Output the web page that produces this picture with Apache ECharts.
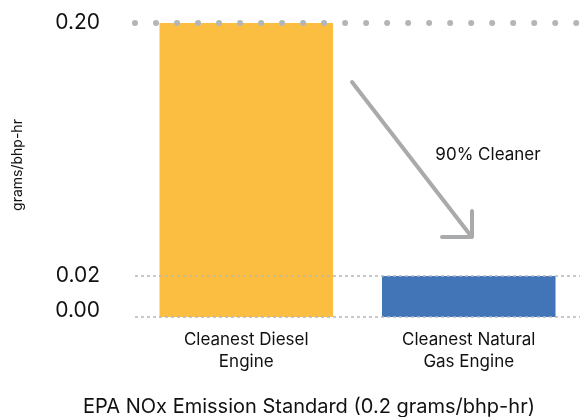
<!DOCTYPE html>
<html><head><meta charset="utf-8">
<script src="https://cdn.jsdelivr.net/npm/echarts@6.0.0/dist/echarts.min.js"></script>
<style>html,body{margin:0;padding:0;background:#fff}#c{width:582px;height:417px}</style>
</head><body><div id="c"></div>
<script>
const categories = ['Cleanest Diesel\nEngine', 'Cleanest Natural\nGas Engine'];
const values = [0.2, 0.02];
const barColors = ['#FBBE40', '#4274B8'];
const tickValues = [0, 0.02, 0.2];
const gridTicks = [0, 0.02];
const standard = 0.2;
const yName = 'grams/bhp-hr';
const titleText = 'EPA NOx Emission Standard (0.2 grams/bhp-hr)';
const note = '90% Cleaner';

const chart = echarts.init(document.getElementById('c'));
const font = 'Inter';
chart.setOption({
  animation: false,
  title: { text: titleText, left: 78, top: 392,
    textStyle: { fontFamily: font, fontSize: 20, fontWeight: 'normal', color: '#111' } },
  grid: { left: 135, right: 2, top: 23, bottom: 100 },
  xAxis: {
    type: 'category', data: categories,
    axisLine: { show: false }, axisTick: { show: false },
    axisLabel: { fontFamily: font, fontSize: 17, color: '#111', lineHeight: 22, margin: 12 }
  },
  yAxis: {
    type: 'value', min: 0, max: 0.2, z: 3,
    breaks: [{ start: 0.025, end: 0.195, gap: 0.1134 }],
    breakArea: { show: false },
    name: yName, nameLocation: 'middle', nameGap: 110, nameRotate: 90,
    nameTextStyle: { fontFamily: font, fontSize: 14, color: '#111', padding: [0, 0, 0, 10] },
    axisLine: { show: false }, axisTick: { show: false, customValues: gridTicks },
    axisLabel: { customValues: tickValues, fontFamily: font, fontSize: 21, color: '#111', margin: 35,
      formatter: v => v === 0 ? '{z|0.00}' : v.toFixed(2),
      rich: { z: { fontFamily: font, fontSize: 21, color: '#111', padding: [0, 0, 12, 0] } } },
    splitLine: { show: true, lineStyle: { color: '#b8b8b8', width: 1.5, type: [3, 3] } }
  },
  series: [{
    type: 'bar', data: values.map((v, i) => ({ value: v, itemStyle: { color: barColors[i] } })),
    barWidth: '78%',
    markLine: { silent: true, symbol: 'none', z: 5, label: { show: false },
      lineStyle: { color: '#b4b5b9', width: 6, type: [0.01, 21], cap: 'round' },
      data: [{ yAxis: standard }] }
  }],
  graphic: [
    { type: 'polyline', shape: { points: [[352, 82], [471, 236]] }, z: 10,
      style: { stroke: '#a9aaac', lineWidth: 4, lineCap: 'round', fill: null } },
    { type: 'polyline', shape: { points: [[442, 237], [472, 237], [472, 211]] }, z: 10,
      style: { stroke: '#a9aaac', lineWidth: 4, lineCap: 'round', lineJoin: 'round', fill: null } },
    { type: 'text', x: 488, y: 155, z: 10,
      style: { text: note, fontFamily: font, fontSize: 17, fill: '#111', align: 'center', verticalAlign: 'middle' } }
  ]
});
</script></body></html>
